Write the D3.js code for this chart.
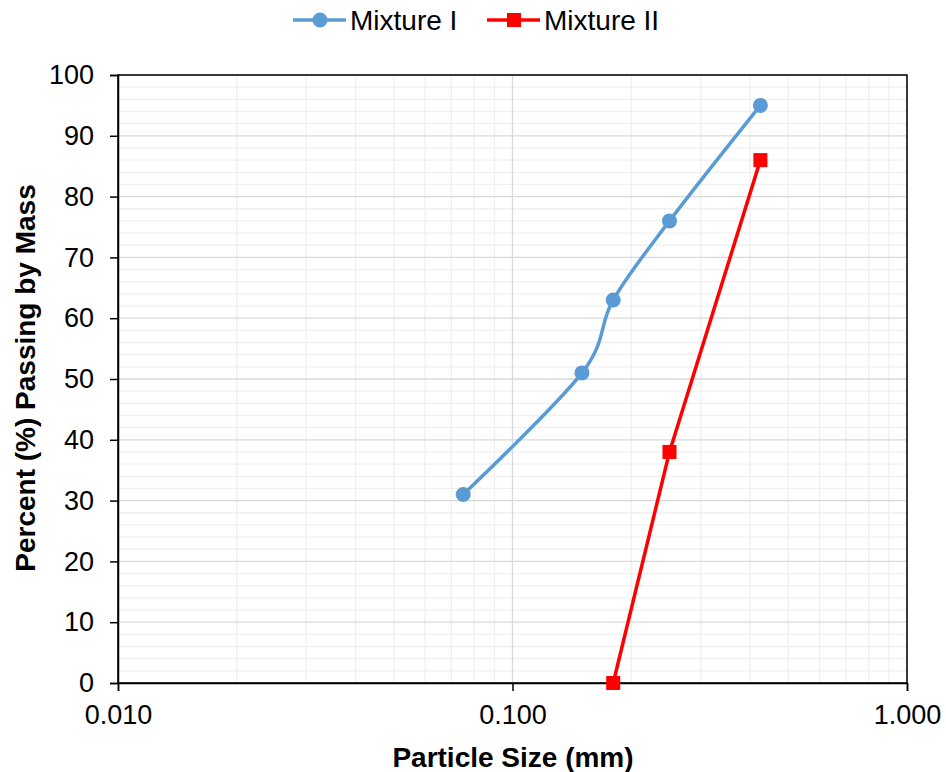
<!DOCTYPE html>
<html>
<head>
<meta charset="utf-8">
<script src="https://cdn.jsdelivr.net/npm/d3@7"></script>
<style>
  html, body { margin: 0; padding: 0; background: #fff; }
  svg { display: block; font-family: "Liberation Sans", Arial, sans-serif; }
</style>
</head>
<body>
<svg id="chart" width="946" height="772"></svg>
<script>
// Particle size distribution (sieve analysis)
const mix1Size = [0.075, 0.15, 0.18, 0.25, 0.425];
const mix1Pass = [31, 51, 63, 76, 95];
const mix2Size = [0.18, 0.25, 0.425];
const mix2Pass = [0, 38, 86];
const xTickValues = [0.01, 0.1, 1];
const yTickValues = [0, 10, 20, 30, 40, 50, 60, 70, 80, 90, 100];
const seriesNames = ["Mixture I", "Mixture II"];

const svg = d3.select("#chart");
const m = { left: 118, right: 907, top: 75, bottom: 683 };

const x = d3.scaleLog().domain([0.01, 1]).range([m.left, m.right]);
const y = d3.scaleLinear().domain([0, 100]).range([m.bottom, m.top]);

// Minor grid
const xMinor = [];
[0.01, 0.1].forEach(d => { for (let k = 2; k <= 9; k++) xMinor.push(d * k); });
const yMinor = d3.range(0, 101, 2).filter(v => v % 10 !== 0);

const grid = svg.append("g");
grid.selectAll(".ym").data(yMinor).enter().append("line")
  .attr("x1", m.left).attr("x2", m.right)
  .attr("y1", d => y(d)).attr("y2", d => y(d))
  .attr("stroke", "#f0f0f0").attr("stroke-width", 1.3);
grid.selectAll(".xm").data(xMinor).enter().append("line")
  .attr("x1", d => x(d)).attr("x2", d => x(d))
  .attr("y1", m.top).attr("y2", m.bottom)
  .attr("stroke", "#f0f0f0").attr("stroke-width", 1.3);
grid.selectAll(".yM").data(yTickValues).enter().append("line")
  .attr("x1", m.left).attr("x2", m.right)
  .attr("y1", d => y(d)).attr("y2", d => y(d))
  .attr("stroke", "#d9d9d9").attr("stroke-width", 1.3);
grid.selectAll(".xM").data(xTickValues).enter().append("line")
  .attr("x1", d => x(d)).attr("x2", d => x(d))
  .attr("y1", m.top).attr("y2", m.bottom)
  .attr("stroke", "#d9d9d9").attr("stroke-width", 1.3);

// Plot frame
svg.append("rect")
  .attr("x", m.left).attr("y", m.top)
  .attr("width", m.right - m.left).attr("height", m.bottom - m.top)
  .attr("fill", "none").attr("stroke", "#000").attr("stroke-width", 1.5);

// Axes
const yAxis = d3.axisLeft(y).tickValues(yTickValues).tickSize(8).tickPadding(16).tickFormat(d3.format("d"));
const xAxis = d3.axisBottom(x).tickValues(xTickValues).tickSize(8).tickPadding(14).tickFormat(d3.format(".3f"));

const gy = svg.append("g").attr("transform", `translate(${m.left},0)`).call(yAxis);
const gx = svg.append("g").attr("transform", `translate(0,${m.bottom})`).call(xAxis);
[gx, gy].forEach(g => {
  g.attr("font-size", null).attr("font-family", null);
  g.select(".domain").attr("stroke", "#000").attr("stroke-width", 1.5);
  g.selectAll(".tick line").attr("stroke", "#000").attr("stroke-width", 1.5);
  g.selectAll(".tick text").attr("fill", "#000").style("font-size", "27px");
});

// Axis titles
svg.append("text").attr("x", 513).attr("y", 767)
  .attr("text-anchor", "middle").style("font-size", "28px").style("font-weight", "bold")
  .text("Particle Size (mm)");
svg.append("text").attr("transform", `translate(35,378) rotate(-90)`)
  .attr("text-anchor", "middle").style("font-size", "28px").style("font-weight", "bold")
  .text("Percent (%) Passing by Mass");

// Series
const blue = "#5b9bd5", red = "#ff0000";
const s1 = mix1Size.map((d, i) => [d, mix1Pass[i]]);
const s2 = mix2Size.map((d, i) => [d, mix2Pass[i]]);

svg.append("path").datum(s1)
  .attr("d", d3.line().x(d => x(d[0])).y(d => y(d[1])).curve(d3.curveCatmullRom.alpha(0)))
  .attr("fill", "none").attr("stroke", blue).attr("stroke-width", 3.5).attr("stroke-linejoin", "round");
svg.append("path").datum(s2)
  .attr("d", d3.line().x(d => x(d[0])).y(d => y(d[1])))
  .attr("fill", "none").attr("stroke", red).attr("stroke-width", 3.5).attr("stroke-linejoin", "round");

svg.selectAll(".c1").data(s1).enter().append("circle")
  .attr("cx", d => x(d[0])).attr("cy", d => y(d[1])).attr("r", 7.5).attr("fill", blue);
svg.selectAll(".c2").data(s2).enter().append("rect")
  .attr("x", d => x(d[0]) - 7).attr("y", d => y(d[1]) - 7)
  .attr("width", 14).attr("height", 14).attr("fill", red);

// Legend
const legend = svg.append("g");
const items = [
  { name: seriesNames[0], color: blue, x0: 293, shape: "circle" },
  { name: seriesNames[1], color: red, x0: 487, shape: "square" }
];
items.forEach(it => {
  const ly = 20;
  legend.append("line").attr("x1", it.x0).attr("x2", it.x0 + 53).attr("y1", ly).attr("y2", ly)
    .attr("stroke", it.color).attr("stroke-width", 3.5);
  if (it.shape === "circle") {
    legend.append("circle").attr("cx", it.x0 + 27).attr("cy", ly).attr("r", 7.5).attr("fill", it.color);
  } else {
    legend.append("rect").attr("x", it.x0 + 20).attr("y", ly - 7).attr("width", 14).attr("height", 14).attr("fill", it.color);
  }
  legend.append("text").attr("x", it.x0 + 57).attr("y", ly + 10).style("font-size", "28px")
    .attr("fill", "#000").text(it.name);
});
</script>
</body>
</html>
